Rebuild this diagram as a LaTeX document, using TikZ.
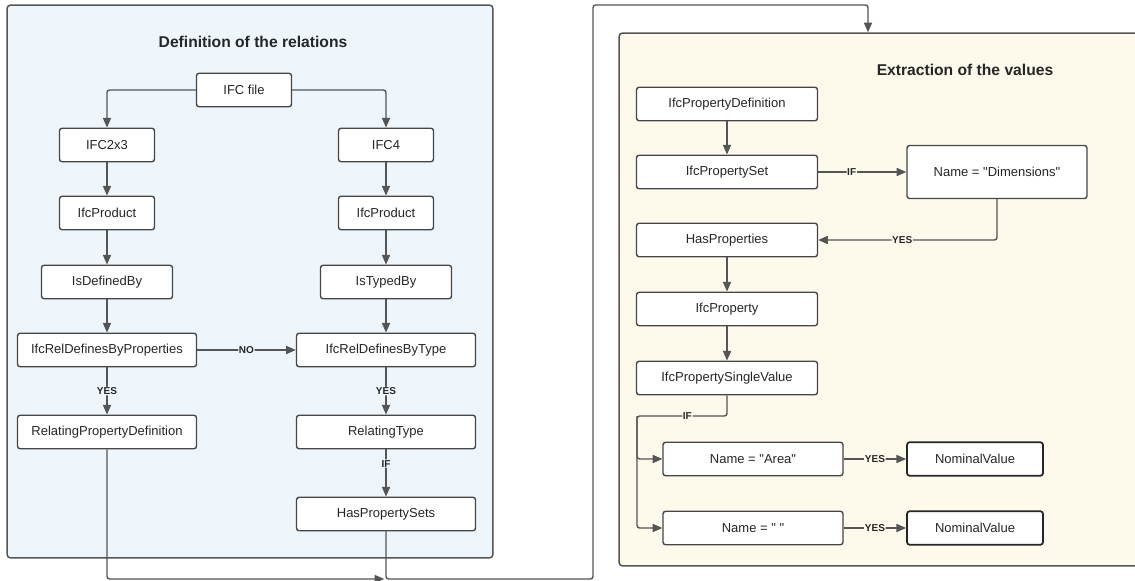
\documentclass[tikz,border=0pt]{standalone}
\usepackage{fontspec}
\setmainfont{Liberation Sans}
\newfontfamily\ifcfont{Liberation Sans}
\usetikzlibrary{arrows.meta}
\definecolor{linegray}{HTML}{555555}
\definecolor{boxgray}{HTML}{464646}
\definecolor{textgray}{HTML}{262626}
\definecolor{relblue}{HTML}{EEF6FC}
\definecolor{valcream}{HTML}{FDFAEC}

\begin{document}
\begin{tikzpicture}[x=0.02cm, y=-0.02cm, >={Triangle[length=5.5pt,width=4.6pt]},
  every node/.style={font=\ifcfont\fontsize{7.4}{9}\selectfont, text=textgray},
  ifcbox/.style={draw=boxgray, fill=white, line width=0.8pt, rounded corners=1.5pt, minimum height=0.67cm, inner sep=1pt},
  valbox/.style={ifcbox, draw=black!85, line width=1pt},
  panel/.style={draw=linegray, line width=0.85pt, rounded corners=2pt, inner sep=0pt},
  heading/.style={font=\ifcfont\fontsize{8.9}{11}\selectfont\bfseries},
  flow/.style={->, draw=linegray, line width=0.8pt, rounded corners=1.5pt},
  cond/.style={font=\ifcfont\fontsize{5.7}{7}\selectfont\bfseries, inner sep=0.4pt},
  condrel/.style={cond, fill=relblue},
  condval/.style={cond, fill=valcream}]
\useasboundingbox (0,0) rectangle (1135,581);
\clip (0,0) rectangle (1135,581);

\node[panel, fill=relblue, minimum width=9.72cm, minimum height=11.06cm] (relpanel) at (250,281.5) {};
\node[panel, fill=valcream, minimum width=10.42cm, minimum height=10.66cm] (valpanel) at (879.5,299.5) {};

\node[heading] (reltitle) at (253,42) {Definition of the relations};
\node[ifcbox, minimum width=1.9cm] (ifcfile) at (244,90) {IFC file};
\node[ifcbox, minimum width=1.9cm] (ifcold) at (107,145) {IFC2x3};
\node[ifcbox, minimum width=1.9cm] (ifcnew) at (386,145) {IFC4};
\node[ifcbox, minimum width=1.9cm] (prodold) at (107,213) {IfcProduct};
\node[ifcbox, minimum width=1.9cm] (prodnew) at (386,213) {IfcProduct};
\node[ifcbox, minimum width=2.62cm] (defby) at (107,282) {IsDefinedBy};
\node[ifcbox, minimum width=2.62cm] (typby) at (386,282) {IsTypedBy};
\node[ifcbox, minimum width=3.58cm] (relprops) at (107,350) {IfcRelDefinesByProperties};
\node[ifcbox, minimum width=3.58cm] (reltype) at (386,350) {IfcRelDefinesByType};
\node[ifcbox, minimum width=3.58cm] (relpropdef) at (107,432) {RelatingPropertyDefinition};
\node[ifcbox, minimum width=3.58cm] (reltypeobj) at (386,432) {RelatingType};
\node[ifcbox, minimum width=3.58cm] (hassets) at (386,514) {HasPropertySets};

\draw[flow] (ifcfile.west) -| (ifcold.north);
\draw[flow] (ifcfile.east) -| (ifcnew.north);
\draw[flow] (ifcold) -- (prodold);
\draw[flow] (prodold) -- (defby);
\draw[flow] (defby) -- (relprops);
\draw[flow] (ifcnew) -- (prodnew);
\draw[flow] (prodnew) -- (typby);
\draw[flow] (typby) -- (reltype);
\draw[flow] (relprops) -- node[condrel]{NO} (reltype);
\draw[flow] (relprops) -- node[condrel]{YES} (relpropdef);
\draw[flow] (reltype) -- node[condrel]{YES} (reltypeobj);
\draw[flow] (reltypeobj) -- node[condrel, pos=0.3]{IF} (hassets);

\coordinate (merge) at (386,579);
\coordinate (loopbot) at (593,579);
\coordinate (looptop) at (593,5);
\coordinate (loopend) at (868,5);
\draw[flow, shorten >=1pt] (relpropdef.south) |- (merge);
\draw[flow] (hassets.south) -- (merge) -- (loopbot) -- (looptop) -- (loopend) -- (loopend |- valpanel.north);

\node[heading] (valtitle) at (965,70) {Extraction of the values};
\node[ifcbox, minimum width=3.62cm] (propdef) at (727,104) {IfcPropertyDefinition};
\node[ifcbox, minimum width=3.62cm] (propset) at (727,172) {IfcPropertySet};
\node[ifcbox, minimum width=3.6cm, minimum height=1.06cm] (dimname) at (997,172) {Name = "Dimensions"};
\node[ifcbox, minimum width=3.62cm] (hasprops) at (727,240) {HasProperties};
\node[ifcbox, minimum width=3.62cm] (prop) at (727,309) {IfcProperty};
\node[ifcbox, minimum width=3.62cm] (single) at (727,378) {IfcPropertySingleValue};
\node[ifcbox, minimum width=3.6cm] (areaname) at (753,459) {Name = "Area"};
\node[ifcbox, minimum width=3.6cm] (blankname) at (753,528) {Name = " "};
\node[valbox, minimum width=2.72cm] (areaval) at (975,459) {NominalValue};
\node[valbox, minimum width=2.72cm] (blankval) at (975,528) {NominalValue};

\draw[flow] (propdef) -- (propset);
\draw[flow] (propset) -- node[condval, pos=0.38]{IF} (dimname);
\draw[flow] (dimname.south) |- node[condval, pos=0.765]{YES} (hasprops.east);
\draw[flow] (hasprops) -- (prop);
\draw[flow] (prop) -- (single);
\coordinate (ifsplit) at (637,416);
\draw[flow] (single.south) |- node[condval, pos=0.72]{IF} (ifsplit) |- (blankname.west);
\draw[flow] (ifsplit) |- (areaname.west);
\draw[flow] (areaname) -- node[condval]{YES} (areaval);
\draw[flow] (blankname) -- node[condval]{YES} (blankval);
\end{tikzpicture}
\end{document}
